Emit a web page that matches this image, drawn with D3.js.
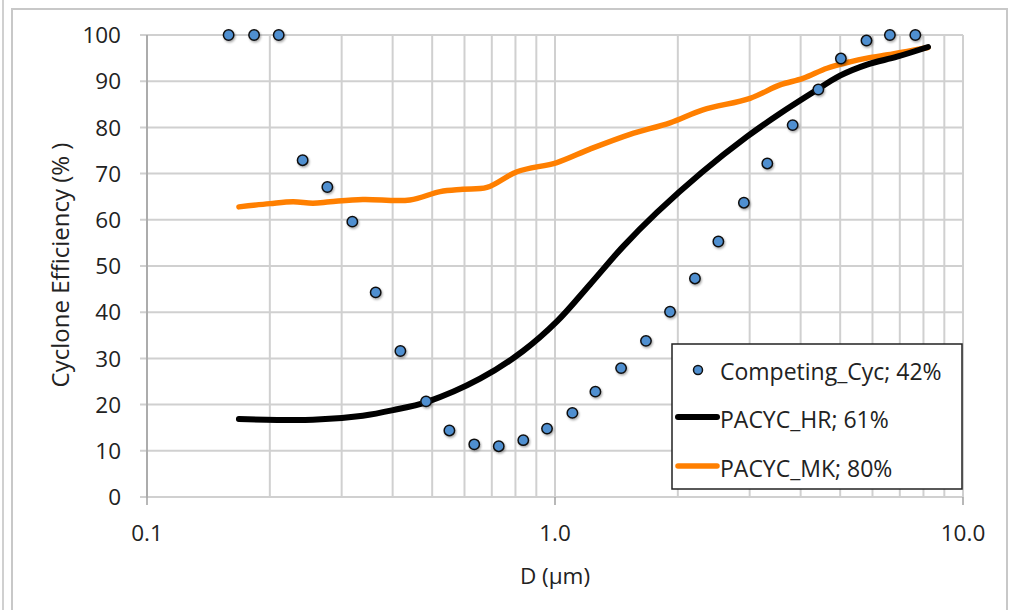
<!DOCTYPE html>
<html>
<head>
<meta charset="utf-8">
<script src="https://cdn.jsdelivr.net/npm/d3@7"></script>
<style>
  html, body { margin: 0; padding: 0; background: #fff; }
  svg { display: block; }
  text { font-family: "Open Sans", "DejaVu Sans", sans-serif; fill: #222; }
</style>
</head>
<body>
<svg id="chart" width="1011" height="610"></svg>
<script>
// Particle diameter (µm) and measured efficiency (%) for the competing cyclone
const compD = [0.1585, 0.183, 0.2103, 0.2407, 0.2767, 0.3186, 0.3635, 0.4178, 0.483, 0.551,
               0.634, 0.728, 0.836, 0.956, 1.103, 1.256, 1.452, 1.671, 1.914, 2.203,
               2.514, 2.904, 3.314, 3.824, 4.42, 5.02, 5.80, 6.62, 7.64];
const compEff = [100, 100, 100, 72.9, 67.1, 59.6, 44.3, 31.6, 20.7, 14.4,
                 11.4, 11.0, 12.3, 14.8, 18.2, 22.8, 27.9, 33.8, 40.1, 47.3,
                 55.3, 63.7, 72.2, 80.5, 88.2, 94.9, 98.8, 100, 100];

// PACYC high-resolution model curve
const hrD = [0.168, 0.255, 0.338, 0.401, 0.486, 0.655, 0.835, 1.011, 1.218, 1.468,
             1.778, 2.292, 2.955, 3.561, 4.291, 4.995, 5.818, 6.89, 8.208];
const hrEff = [16.9, 16.7, 17.6, 18.8, 20.6, 25.6, 31.6, 38.0, 46.0, 54.2,
               61.6, 70.3, 78.0, 83.0, 87.6, 91.2, 93.6, 95.3, 97.4];

// PACYC MK model curve
const mkD = [0.168, 0.2, 0.228, 0.255, 0.281, 0.338, 0.441, 0.523, 0.595, 0.681,
             0.807, 1.011, 1.218, 1.527, 1.914, 2.305, 3.006, 3.561, 4.053, 4.642,
             5.285, 5.818, 6.735, 8.208];
const mkEff = [62.8, 63.5, 63.9, 63.6, 63.9, 64.4, 64.3, 66.1, 66.6, 67.0,
               70.4, 72.4, 75.3, 78.5, 81.0, 83.8, 86.3, 89.2, 90.6, 92.8,
               94.2, 95.0, 95.9, 97.3];

const seriesNames = ["Competing_Cyc; 42%", "PACYC_HR; 61%", "PACYC_MK; 80%"];
const xTickLabels = [[0.1, "0.1"], [1, "1.0"], [10, "10.0"]];
const yTicks = d3.range(0, 101, 10);
const xTitle = "D (µm)";
const yTitle = "Cyclone Efficiency (% )";

const svg = d3.select("#chart");
const plotL = 147, plotR = 963, plotT = 35, plotB = 497;
const fs = 22.5;

const x = d3.scaleLog().domain([0.1, 10]).range([plotL, plotR]);
const y = d3.scaleLinear().domain([0, 100]).range([plotB, plotT]);

// Outer frame
svg.append("line").attr("x1", 3).attr("x2", 3).attr("y1", 0).attr("y2", 610)
  .attr("stroke", "#d0d0d0").attr("stroke-width", 2);
svg.append("rect").attr("x", 12).attr("y", 9).attr("width", 995).attr("height", 620)
  .attr("fill", "#fff").attr("stroke", "#c8c8c8").attr("stroke-width", 2);

const defs = svg.append("defs");
const sh = defs.append("filter").attr("id", "shadow")
  .attr("x", "-50%").attr("y", "-50%").attr("width", "200%").attr("height", "200%");
sh.append("feDropShadow").attr("dx", 1).attr("dy", 1.5).attr("stdDeviation", 1)
  .attr("flood-color", "#000").attr("flood-opacity", 0.35);

// Gridlines
const grid = svg.append("g");
grid.selectAll(".vg").data(x.ticks()).join("line")
  .attr("x1", d => x(d)).attr("x2", d => x(d))
  .attr("y1", plotT).attr("y2", plotB)
  .attr("stroke", "#d0d0d0").attr("stroke-width", 2);
grid.selectAll(".hg").data(yTicks).join("line")
  .attr("x1", plotL - 7).attr("x2", plotR)
  .attr("y1", d => y(d)).attr("y2", d => y(d))
  .attr("stroke", "#d0d0d0").attr("stroke-width", 2);

// Axis lines and major ticks
svg.append("line").attr("x1", plotL).attr("x2", plotL).attr("y1", plotT).attr("y2", plotB + 8)
  .attr("stroke", "#a0a0a0").attr("stroke-width", 1.5);
svg.selectAll(".mt").data(xTickLabels.slice(1)).join("line")
  .attr("x1", d => x(d[0])).attr("x2", d => x(d[0]))
  .attr("y1", plotB).attr("y2", plotB + 8)
  .attr("stroke", "#a0a0a0").attr("stroke-width", 1.5);

// Tick labels
svg.selectAll(".yl").data(yTicks).join("text")
  .attr("x", 121).attr("y", d => y(d)).attr("dy", "0.36em")
  .attr("text-anchor", "end").attr("font-size", fs).text(d => d);
svg.selectAll(".xl").data(xTickLabels).join("text")
  .attr("x", d => x(d[0])).attr("y", 533).attr("dy", "0.36em")
  .attr("text-anchor", "middle").attr("font-size", fs).text(d => d[1]);

// Axis titles
svg.append("text").attr("x", x(1)).attr("y", 576).attr("dy", "0.36em")
  .attr("text-anchor", "middle").attr("font-size", fs).text(xTitle);
svg.append("text").attr("transform", "translate(60,265) rotate(-90)").attr("dy", "0.36em")
  .attr("text-anchor", "middle").attr("font-size", 24).text(yTitle);

// Model curves
const line = d3.line().x(d => x(d[0])).y(d => y(d[1])).curve(d3.curveCatmullRom.alpha(0.5));
svg.append("path").datum(d3.zip(mkD, mkEff)).attr("d", line)
  .attr("fill", "none").attr("stroke", "#ff7f00").attr("stroke-width", 5.5)
  .attr("stroke-linecap", "round").attr("stroke-linejoin", "round");
svg.append("path").datum(d3.zip(hrD, hrEff)).attr("d", line)
  .attr("fill", "none").attr("stroke", "#000").attr("stroke-width", 6)
  .attr("stroke-linecap", "round").attr("stroke-linejoin", "round");

// Measured points
svg.append("g").attr("filter", "url(#shadow)")
  .selectAll("circle").data(d3.zip(compD, compEff)).join("circle")
  .attr("cx", d => x(d[0])).attr("cy", d => y(d[1])).attr("r", 5.2)
  .attr("fill", "#4f8fd0").attr("stroke", "#111").attr("stroke-width", 1.5);

// Legend
const lg = svg.append("g");
lg.append("rect").attr("x", 672).attr("y", 344).attr("width", 290).attr("height", 145)
  .attr("fill", "#fff").attr("stroke", "#222").attr("stroke-width", 1.5);
lg.append("circle").attr("cx", 698).attr("cy", 370).attr("r", 4.5)
  .attr("fill", "#4f8fd0").attr("stroke", "#111").attr("stroke-width", 1.5);
lg.append("line").attr("x1", 678).attr("x2", 717).attr("y1", 417).attr("y2", 417)
  .attr("stroke", "#000").attr("stroke-width", 6).attr("stroke-linecap", "round");
lg.append("line").attr("x1", 678).attr("x2", 717).attr("y1", 466).attr("y2", 466)
  .attr("stroke", "#ff7f00").attr("stroke-width", 5.5).attr("stroke-linecap", "round");
lg.selectAll(".lt").data(seriesNames).join("text")
  .attr("x", 720).attr("y", (d, i) => [372, 420, 469][i]).attr("dy", "0.36em")
  .attr("font-size", 23).text(d => d);
</script>
</body>
</html>
